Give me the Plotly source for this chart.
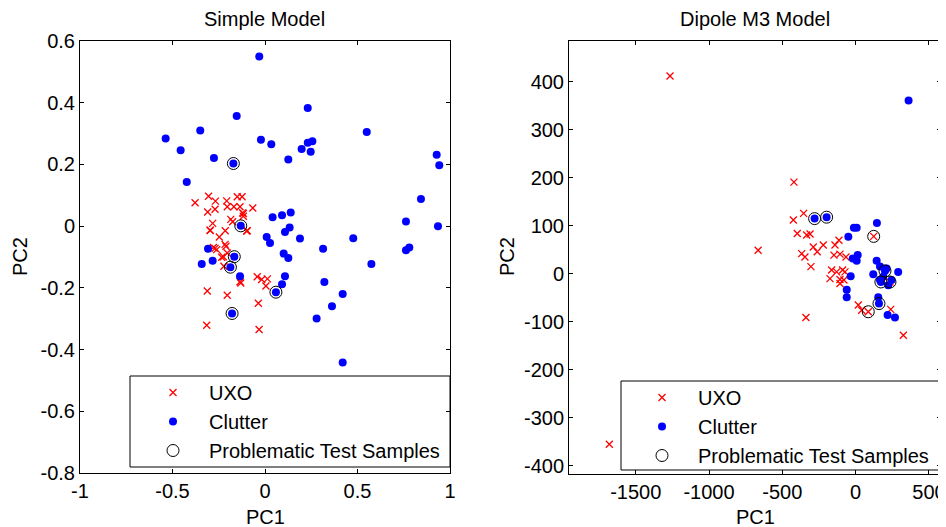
import plotly.graph_objects as go

# The page body has an 8 px margin, so the figure is 8 px smaller than the window
OFF = 8
W, H = 946 - OFF, 527 - OFF

# ---------------- Simple Model data ----------------
simple_uxo_x = [-0.378, -0.305, -0.268, -0.207, -0.150, -0.124, -0.310, -0.270, -0.204, -0.168,
                -0.135, -0.066, -0.121, -0.117, -0.185, -0.175, -0.283, -0.297, -0.215, -0.096,
                -0.247, -0.279, -0.211, -0.261, -0.204, -0.234, -0.222, -0.135, -0.042, -0.018,
                0.013, 0.005, -0.312, -0.204, -0.036, -0.315, -0.032, -0.099, -0.270, -0.216,
                -0.296, -0.225, -0.117, -0.131]
simple_uxo_y = [0.076, 0.097, 0.081, 0.082, 0.095, 0.095, 0.046, 0.055, 0.063, 0.063,
                0.063, 0.059, 0.043, 0.032, 0.022, 0.014, 0.009, -0.013, -0.015, -0.015,
                -0.035, -0.069, -0.065, -0.076, -0.087, -0.101, -0.130, -0.180, -0.164, -0.173,
                -0.171, -0.194, -0.210, -0.224, -0.250, -0.321, -0.335, -0.016, -0.072, -0.059,
                -0.014, -0.099, 0.041, -0.184]

simple_clutter_x = [-0.031, -0.537, -0.456, -0.350, -0.276, -0.171, -0.153, -0.022, 0.034, 0.126,
                    0.198, 0.231, 0.231, 0.256, 0.247, 0.550, -0.423, 0.928, 0.942, 0.843,
                    0.762, 0.935, 0.041, 0.092, 0.139, 0.133, -0.131, 0.108, 0.009, 0.027,
                    0.189, 0.314, 0.477, 0.762, 0.780, 0.575, -0.308, -0.283, -0.342, -0.166,
                    -0.187, 0.101, 0.126, -0.135, 0.108, 0.092, 0.059, 0.321, 0.420, 0.362,
                    0.279, -0.178, 0.420]
simple_clutter_y = [0.550, 0.284, 0.246, 0.310, 0.221, 0.203, 0.357, 0.280, 0.265, 0.216,
                    0.250, 0.383, 0.270, 0.275, 0.241, 0.305, 0.143, 0.231, 0.197, 0.088,
                    0.015, 0.000, 0.029, 0.035, 0.044, -0.004, 0.001, -0.019, -0.035, -0.055,
                    -0.040, -0.073, -0.039, -0.078, -0.069, -0.123, -0.073, -0.112, -0.123, -0.099,
                    -0.133, -0.089, -0.103, -0.162, -0.162, -0.188, -0.214, -0.181, -0.220, -0.260,
                    -0.299, -0.283, -0.442]

simple_prob_x = [-0.171, -0.131, -0.166, -0.187, 0.059, -0.178]
simple_prob_y = [0.203, 0.001, -0.099, -0.133, -0.214, -0.283]

# ---------------- Dipole M3 Model data ----------------
dipole_uxo_x = [-1266, -421, -355, -425, 123, -398, -334, -311, -665, -368,
                -346, -289, -262, -221, -141, -114, -148, -107, -66, -305,
                -164, -130, -89, -73, -175, -107, -80, -107, -339, 18,
                41, 86, 239, 325, 234, -1680]
dipole_uxo_y = [412, 191, 126, 112, 78, 84, 81, 83, 49, 42,
                35, 56, 46, 60, 60, 70, 39, 41, 35, 15,
                8, 4, 8, 4, -10, -12, -13, -20, -91, -65,
                -76, -79, -74, -128, -17, -355]

dipole_clutter_x = [361, -280, -198, 145, -12, 7, -50, 14, -20, 7,
                    -34, -61, -61, 159, 154, 218, 268, 143, 166, 211,
                    120, 290, 166, 222, 188, 245, 200, 172]
dipole_clutter_y = [361, 115, 118, 106, 96, 96, 77, 39, 32, 27,
                    -5, -33, -49, -62, -49, -86, -91, 27, 15, 11,
                    -1, 4, -13, -24, -6, -13, 6, -17]

dipole_prob_x = [-280, -198, 123, 200, 172, 234, 159, 86]
dipole_prob_y = [115, 118, 78, 6, -17, -17, -62, -79]

# ---------------- ticks ----------------
s_xtick_vals = [-1, -0.5, 0, 0.5, 1]
s_xtick_text = ["-1", "-0.5", "0", "0.5", "1"]
s_ytick_vals = [-0.8, -0.6, -0.4, -0.2, 0, 0.2, 0.4, 0.6]
s_ytick_text = ["-0.8", "-0.6", "-0.4", "-0.2", "0", "0.2", "0.4", "0.6"]
d_xtick_vals = [-1500, -1000, -500, 0, 500]
d_xtick_text = ["-1500", "-1000", "-500", "0", "500"]
d_ytick_vals = [-400, -300, -200, -100, 0, 100, 200, 300, 400]
d_ytick_text = ["-400", "-300", "-200", "-100", "0", "100", "200", "300", "400"]

RED = "#ff0000"
BLUE = "#0000ff"
FONT = "Liberation Sans, Arial, sans-serif"
FS = 20

fig = go.Figure()


def add_panel(ux, uy, cx, cy, px, py, xa, ya, leg):
    fig.add_trace(go.Scatter(x=ux, y=uy, mode="markers", name="UXO", xaxis=xa, yaxis=ya,
                             legend=leg, legendgroup=leg + "u",
                             marker=dict(symbol="x-thin", size=7, color=RED,
                                         line=dict(width=1.3, color=RED))))
    fig.add_trace(go.Scatter(x=cx, y=cy, mode="markers", name="Clutter", xaxis=xa, yaxis=ya,
                             legend=leg, legendgroup=leg + "c",
                             marker=dict(symbol="circle", size=8, color=BLUE,
                                         line=dict(width=0))))
    fig.add_trace(go.Scatter(x=px, y=py, mode="markers", name="Problematic Test Samples",
                             xaxis=xa, yaxis=ya, legend=leg, legendgroup=leg + "p",
                             marker=dict(symbol="circle-open", size=12, color="black",
                                         line=dict(width=1, color="black"))))


add_panel(simple_uxo_x, simple_uxo_y, simple_clutter_x, simple_clutter_y,
          simple_prob_x, simple_prob_y, "x", "y", "legend")
add_panel(dipole_uxo_x, dipole_uxo_y, dipole_clutter_x, dipole_clutter_y,
          dipole_prob_x, dipole_prob_y, "x2", "y2", "legend2")


def px_x(p):
    return (p - OFF) / W


def px_y(p):
    return 1 - (p - OFF) / H


axis_common = dict(showline=True, linecolor="black", linewidth=1, mirror="allticks",
                   ticks="inside", ticklen=4, tickcolor="black", showgrid=False,
                   zeroline=False, automargin=False,
                   tickfont=dict(family=FONT, size=FS, color="black"))

legend_common = dict(xanchor="left", yanchor="top", bgcolor="rgba(0,0,0,0)",
                     borderwidth=0, tracegroupgap=0, itemwidth=62,
                     font=dict(family=FONT, size=FS, color="black"), traceorder="grouped")


def ann(text, x, y, angle=0):
    return dict(text=text, x=px_x(x), y=px_y(y), xref="paper", yref="paper",
                showarrow=False, xanchor="center", yanchor="middle", textangle=angle,
                font=dict(family=FONT, size=FS, color="black"))


fig.update_layout(
    width=W, height=H,
    margin=dict(l=0, r=0, t=0, b=0),
    paper_bgcolor="white", plot_bgcolor="white",
    font=dict(family=FONT, size=FS, color="black"),
    xaxis=dict(domain=[px_x(80), px_x(450)], range=[-1, 1], anchor="y",
               tickvals=s_xtick_vals, ticktext=s_xtick_text, **axis_common),
    yaxis=dict(domain=[px_y(473), px_y(41)], range=[-0.8, 0.6], anchor="x",
               tickvals=s_ytick_vals, ticktext=s_ytick_text, **axis_common),
    xaxis2=dict(domain=[px_x(569), px_x(941)], range=[-1955, 582], anchor="y2",
                tickvals=d_xtick_vals, ticktext=d_xtick_text, **axis_common),
    yaxis2=dict(domain=[px_y(474), px_y(41)], range=[-417, 485], anchor="x2",
                tickvals=d_ytick_vals, ticktext=d_ytick_text, **axis_common),
    legend=dict(x=px_x(137), y=px_y(373), **legend_common),
    legend2=dict(x=px_x(626), y=px_y(378), **legend_common),
    showlegend=True,
    shapes=[
        dict(type="rect", xref="paper", yref="paper", x0=px_x(130), x1=px_x(450),
             y0=px_y(467), y1=px_y(376), line=dict(color="black", width=1),
             fillcolor="white", layer="below"),
        dict(type="rect", xref="paper", yref="paper", x0=px_x(621), x1=px_x(941),
             y0=px_y(470), y1=px_y(381), line=dict(color="black", width=1),
             fillcolor="white", layer="below"),
    ],
    annotations=[
        ann("Simple Model", 264, 19),
        ann("Dipole M3 Model", 755, 19),
        ann("PC1", 265, 517),
        ann("PC1", 755, 517),
        ann("PC2", 20, 257, -90),
        ann("PC2", 507, 257, -90),
    ],
)

fig.write_html("out.html")
